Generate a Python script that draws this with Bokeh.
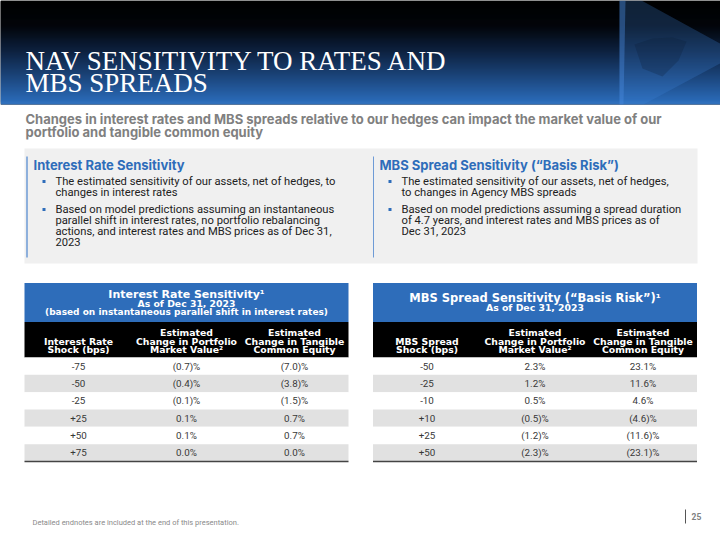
from bokeh.plotting import figure
from bokeh.models import Range1d, ColumnDataSource
from bokeh.core.properties import value
from bokeh.embed import file_html
from bokeh.resources import INLINE

# ---------------- data ----------------
title_lines = ["NAV SENSITIVITY TO RATES AND", "MBS SPREADS"]
subtitle_lines = ["Changes in interest rates and MBS spreads relative to our hedges can impact the market value of our",
                  "portfolio and tangible common equity"]
left_head = "Interest Rate Sensitivity"
right_head = "MBS Spread Sensitivity (\u201cBasis Risk\u201d)"
left_bullets = [["The estimated sensitivity of our assets, net of hedges, to", "changes in interest rates"],
                ["Based on model predictions assuming an instantaneous",
                 "parallel shift in interest rates, no portfolio rebalancing",
                 "actions, and interest rates and MBS prices as of Dec 31,", "2023"]]
right_bullets = [["The estimated sensitivity of our assets, net of hedges,", "to changes in Agency MBS spreads"],
                 ["Based on model predictions assuming a spread duration",
                  "of 4.7 years, and interest rates and MBS prices as of", "Dec 31, 2023"]]

ir_title = ["Interest Rate Sensitivity\u00b9", "As of Dec 31, 2023",
            "(based on instantaneous parallel shift in interest rates)"]
mbs_title = ["MBS Spread Sensitivity (\u201cBasis Risk\u201d)\u00b9", "As of Dec 31, 2023"]
ir_cols = [["Interest Rate", "Shock (bps)"], ["Estimated", "Change in Portfolio", "Market Value\u00b2"],
           ["Estimated", "Change in Tangible", "Common Equity"]]
mbs_cols = [["MBS Spread", "Shock (bps)"], ["Estimated", "Change in Portfolio", "Market Value\u00b2"],
            ["Estimated", "Change in Tangible", "Common Equity"]]

ir_shock = [-75, -50, -25, 25, 50, 75]
ir_port = [-0.7, -0.4, -0.1, 0.1, 0.1, 0.0]
ir_equity = [-7.0, -3.8, -1.5, 0.7, 0.7, 0.0]
mbs_shock = [-50, -25, -10, 10, 25, 50]
mbs_port = [2.3, 1.2, 0.5, -0.5, -1.2, -2.3]
mbs_equity = [23.1, 11.6, 4.6, -4.6, -11.6, -23.1]

footnote = "Detailed endnotes are included at the end of this presentation."
page_no = "25"

# ---------------- helpers ----------------
BODY = "Roboto"
HEAD = "Inter"
WIDE = "DejaVu Sans"
SERIF = "'Liberation Serif', 'Times New Roman', 'DejaVu Serif', serif"
BLUE = "#2e6dba"


def fmt_shock(v):
    return f"+{v}" if v > 0 else f"{v}"


def fmt_pct(v):
    return f"({abs(v):.1f})%" if v < 0 else f"{v:.1f}%"


p = figure(width=720, height=540, x_range=Range1d(0, 720), y_range=Range1d(540, 0),
           output_backend="svg", toolbar_location=None, min_border=0)
p.axis.visible = False
p.grid.visible = False
p.outline_line_color = None
p.background_fill_color = "white"
p.border_fill_color = "white"


def txt(xs, ys, texts, size, color, bold=False, align="left", font=BODY):
    src = ColumnDataSource(dict(x=list(xs), y=list(ys), t=list(texts)))
    p.text(x="x", y="y", text="t", source=src, text_font=value(font),
           text_font_size=f"{size}px", text_color=color,
           text_font_style="bold" if bold else "normal",
           text_align=align, text_baseline="middle")


# ---------------- header gradient ----------------
stops = [(0, (0, 0, 0)), (25, (2, 5, 10)), (50, (13, 33, 63)), (75, (27, 68, 122)), (100, (42, 106, 182))]


def grad(y):
    for (y0, c0), (y1, c1) in zip(stops[:-1], stops[1:]):
        if y0 <= y <= y1:
            f = (y - y0) / (y1 - y0)
            return "#%02x%02x%02x" % tuple(int(round(a + (b - a) * f)) for a, b in zip(c0, c1))
    return "#%02x%02x%02x" % stops[-1][1]


p.quad(left=0, right=720, top=0, bottom=104, fill_color="black", line_color=None)
ys = list(range(0, 101))
p.quad(left=0, right=720, top=ys, bottom=[y + 2 for y in ys],
       fill_color=[grad(y) for y in ys], line_color=None)
p.quad(left=0, right=720, top=101, bottom=104, fill_color="#2f6fbb", line_color=None)

# logo shapes
p.patch([619, 641, 738, 643, 619], [0, 0, 53, 104, 104], fill_color="#3f82d8", fill_alpha=0.26, line_color=None)
p.patch([619, 625, 623, 619], [0, 0, 104, 104], fill_color="#4a8be0", fill_alpha=0.4, line_color=None)
p.patch([634, 652, 672, 686, 678, 662, 642], [44, 38, 37, 41, 60, 76, 68], fill_color="#0a1a33",
        fill_alpha=0.25, line_color=None)

# title
txt([25, 25], [60.5, 82.5], title_lines, 27, "white", font=SERIF)

# subtitle
txt([25, 25], [118, 131.5], subtitle_lines, 13, "#808080", bold=True, font=HEAD)

# gray box
p.quad(left=24, right=697, top=148, bottom=263, fill_color="#f0f0f0", line_color=None)
p.segment(x0=[26.5, 373], y0=[156, 156], x1=[26.5, 373], y1=[257, 257],
          line_color=["#6e9bd6", "#6e9bd6"], line_width=[1.5, 1])
txt([33, 379], [164.5, 164.5], [left_head, right_head], 13, BLUE, bold=True, font=HEAD)


def bullets(xb, xt, groups):
    y = 181
    bx, by, tx, ty, tt = [], [], [], [], []
    for g in groups:
        bx.append(xb)
        by.append(y)
        for line in g:
            tx.append(xt)
            ty.append(y)
            tt.append(line)
            y += 10.8
        y += 6.4
    p.rect(x=bx, y=by, width=3, height=3, fill_color=BLUE, line_color=None)
    txt(tx, ty, tt, 11.2, "#222222")


bullets(43.5, 55, left_bullets)
bullets(389.5, 401, right_bullets)


# ---------------- tables ----------------
def table(x0, x1, title, title_ys, title_sizes, cols, shock, port, equity):
    w = (x1 - x0) / 3
    cx = [x0 + w * (i + 0.5) for i in range(3)]
    p.quad(left=x0, right=x1, top=282.5, bottom=321.5, fill_color=BLUE, line_color=None)
    p.quad(left=x0, right=x1, top=321.5, bottom=357, fill_color="black", line_color=None)
    for t, yy, s in zip(title, title_ys, title_sizes):
        txt([(x0 + x1) / 2], [yy], [t], s, "white", bold=True, align="center", font=WIDE)
    hx, hy, ht = [], [], []
    for c, lines in zip(cx, cols):
        base = [331.5, 340.5, 349.3] if len(lines) == 3 else [340.5, 349.3]
        for yy, l in zip(base, lines):
            hx.append(c)
            hy.append(yy)
            ht.append(l)
    txt(hx, hy, ht, 9.3, "white", bold=True, align="center", font=WIDE)
    top, rh = 357, (461 - 357) / 6
    n = len(shock)
    tops = [top + rh * i for i in range(n)]
    colors = ["white" if i % 2 == 0 else "#e1e1e1" for i in range(n)]
    p.quad(left=x0, right=x1, top=tops, bottom=[t + rh for t in tops], fill_color=colors, line_color=None)
    p.segment(x0=[x0], y0=[461], x1=[x1], y1=[461], line_color="#444444", line_width=1.5)
    cyb = [t + rh / 2 for t in tops]
    txt([cx[0]] * n, cyb, [fmt_shock(v) for v in shock], 9.8, "#383838", align="center")
    txt([cx[1]] * n, cyb, [fmt_pct(v) for v in port], 9.8, "#383838", align="center")
    txt([cx[2]] * n, cyb, [fmt_pct(v) for v in equity], 9.8, "#383838", align="center")


table(24, 348, ir_title, [293.5, 303.3, 311.5], [11, 9.3, 9], ir_cols, ir_shock, ir_port, ir_equity)
table(372.5, 696.5, mbs_title, [297, 306.8], [11.5, 9.3], mbs_cols, mbs_shock, mbs_port, mbs_equity)

# ---------------- footer ----------------
txt([32], [522], [footnote], 7.5, "#8a8a8a")
p.segment(x0=[685], y0=[509], x1=[685], y1=[523], line_color="#555555", line_width=1)
txt([691], [516], [page_no], 8.5, "#808080", bold=True)

open("out.html", "w").write(file_html(p, INLINE))
